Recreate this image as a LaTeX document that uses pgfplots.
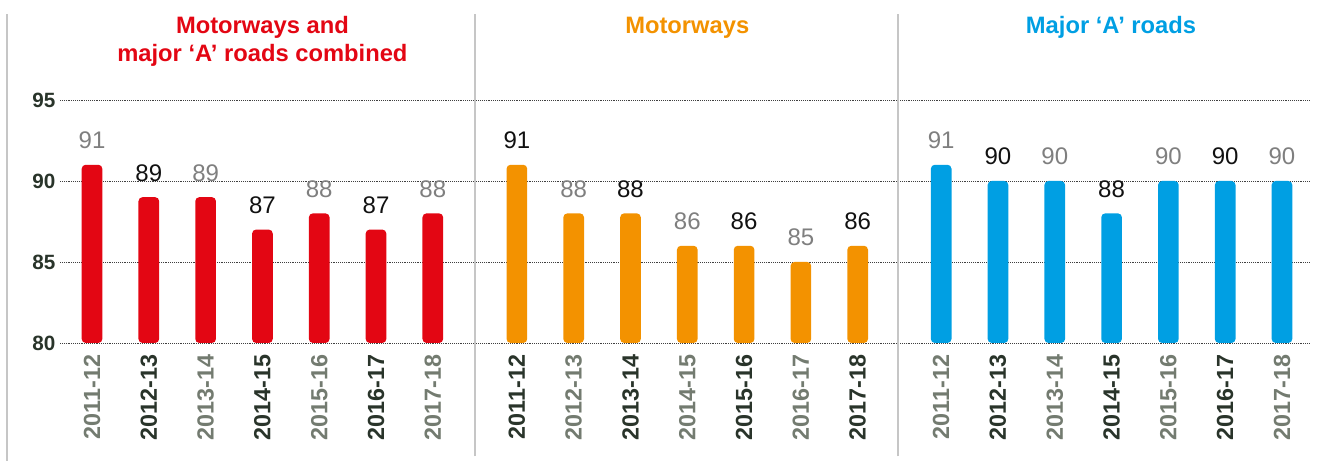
\documentclass[border=0pt]{standalone}
\usepackage{pgfplots}
\pgfplotsset{compat=1.18}
\usepackage{fontspec}
\setmainfont{Liberation Sans}
\definecolor{cRed}{HTML}{E30613}
\definecolor{cOrange}{HTML}{F39200}
\definecolor{cBlue}{HTML}{009FE3}
\definecolor{labGray}{HTML}{7F7F7F}
\definecolor{labBlack}{HTML}{111111}
\definecolor{tickGray}{HTML}{737B70}
\definecolor{tickDark}{HTML}{29342A}
\definecolor{sepGray}{HTML}{C6C6C6}
% rectangles built from lines so that rounded corners apply to the bars
\makeatletter
\newdimen\rc@xa \newdimen\rc@ya \newdimen\rc@xb \newdimen\rc@yb \newdimen\rc@xm
\def\pgfpathrectanglecorners#1#2{%
  \pgf@process{#1}\rc@xa=\pgf@x \rc@ya=\pgf@y
  \pgf@process{#2}\rc@xb=\pgf@x \rc@yb=\pgf@y
  \rc@xm=\rc@xa \advance\rc@xm by \rc@xb \divide\rc@xm by 2
  \pgfpathmoveto{\pgfqpoint{\rc@xm}{\rc@ya}}%
  \pgfpathlineto{\pgfqpoint{\rc@xa}{\rc@ya}}%
  \pgfpathlineto{\pgfqpoint{\rc@xa}{\rc@yb}}%
  \pgfpathlineto{\pgfqpoint{\rc@xb}{\rc@yb}}%
  \pgfpathlineto{\pgfqpoint{\rc@xb}{\rc@ya}}%
  \pgfpathlineto{\pgfqpoint{\rc@xm}{\rc@ya}}%
  \pgfpathclose
}
\makeatother
\pgfplotsset{
  mybar/.style={ybar, bar width=15.5pt, bar shift=0pt, draw=none, fill=#1, rounded corners=3pt},
  gl/.style={every node near coord/.append style={text=labGray, rounded corners=0pt}},
  bl/.style={every node near coord/.append style={text=labBlack, rounded corners=0pt}},
}
\begin{document}
\begin{tikzpicture}
\begin{axis}[
  x=42.6pt, y=12.15pt,
  xmin=-0.563, xmax=21.44, ymin=80, ymax=95,
  axis line style={draw=none},
  major tick length=0pt,
  /pgf/number format/assume math mode=true,
  ytick={80,85,90,95},
  ymajorgrids, grid style={densely dotted, black!75, line width=0.6pt},
  yticklabel style={font=\fontsize{15.5}{18}\selectfont\bfseries, text=tickDark},
  xtick={0,1,2,3,4,5,6,7.48,8.48,9.48,10.48,11.48,12.48,13.48,14.95,15.95,16.95,17.95,18.95,19.95,20.95},
  xticklabels={
    \textcolor{tickGray}{2011-12},\textcolor{tickDark}{2012-13},\textcolor{tickGray}{2013-14},\textcolor{tickDark}{2014-15},\textcolor{tickGray}{2015-16},\textcolor{tickDark}{2016-17},\textcolor{tickGray}{2017-18},
    \textcolor{tickDark}{2011-12},\textcolor{tickGray}{2012-13},\textcolor{tickDark}{2013-14},\textcolor{tickGray}{2014-15},\textcolor{tickDark}{2015-16},\textcolor{tickGray}{2016-17},\textcolor{tickDark}{2017-18},
    \textcolor{tickGray}{2011-12},\textcolor{tickDark}{2012-13},\textcolor{tickGray}{2013-14},\textcolor{tickDark}{2014-15},\textcolor{tickGray}{2015-16},\textcolor{tickDark}{2016-17},\textcolor{tickGray}{2017-18}},
  xticklabel style={font=\fontsize{17.5}{20}\selectfont\bfseries, yshift=-5.5pt, rotate=90, anchor=east},
  clip=false,
  nodes near coords,
  nodes near coords style={font=\fontsize{18}{20}\selectfont, anchor=base, yshift=12pt},
]
% Panel 1: Motorways and major A roads combined
\addplot[mybar=cRed, gl] coordinates {(0,91) (2,89) (4,88) (6,88)};
\addplot[mybar=cRed, bl] coordinates {(1,89) (3,87) (5,87)};
% Panel 2: Motorways
\addplot[mybar=cOrange, bl] coordinates {(7.48,91) (9.48,88) (11.48,86) (13.48,86)};
\addplot[mybar=cOrange, gl] coordinates {(8.48,88) (10.48,86) (12.48,85)};
% Panel 3: Major A roads
\addplot[mybar=cBlue, gl] coordinates {(14.95,91) (16.95,90) (18.95,90) (20.95,90)};
\addplot[mybar=cBlue, bl] coordinates {(15.95,90) (17.95,88) (19.95,90)};

\draw[sepGray, line width=1.1pt] (axis cs:-1.496,72.72) -- (axis cs:-1.496,100.31);
\draw[sepGray, line width=0.9pt] (axis cs:6.743,73.0) -- (axis cs:6.743,100.31);
\draw[sepGray, line width=0.9pt] (axis cs:14.19,73.0) -- (axis cs:14.19,100.31);

\node[anchor=base, text=cRed, font=\fontsize{17.8}{20}\selectfont\bfseries] at (axis cs:3,99.1) {Motorways and};
\node[anchor=base, text=cRed, font=\fontsize{17.8}{20}\selectfont\bfseries] at (axis cs:3,97.37) {major ‘A’ roads combined};
\node[anchor=base, text=cOrange, font=\fontsize{17.8}{20}\selectfont\bfseries] at (axis cs:10.48,99.1) {Motorways};
\node[anchor=base, text=cBlue, font=\fontsize{17.8}{20}\selectfont\bfseries] at (axis cs:17.94,99.1) {Major ‘A’ roads};

\coordinate (bbTL) at (axis cs:-1.62,101.17);
\coordinate (bbBR) at (axis cs:21.637,72.72);
\end{axis}
\pgfresetboundingbox
\path (bbTL) rectangle (bbBR);
\end{tikzpicture}
\end{document}
